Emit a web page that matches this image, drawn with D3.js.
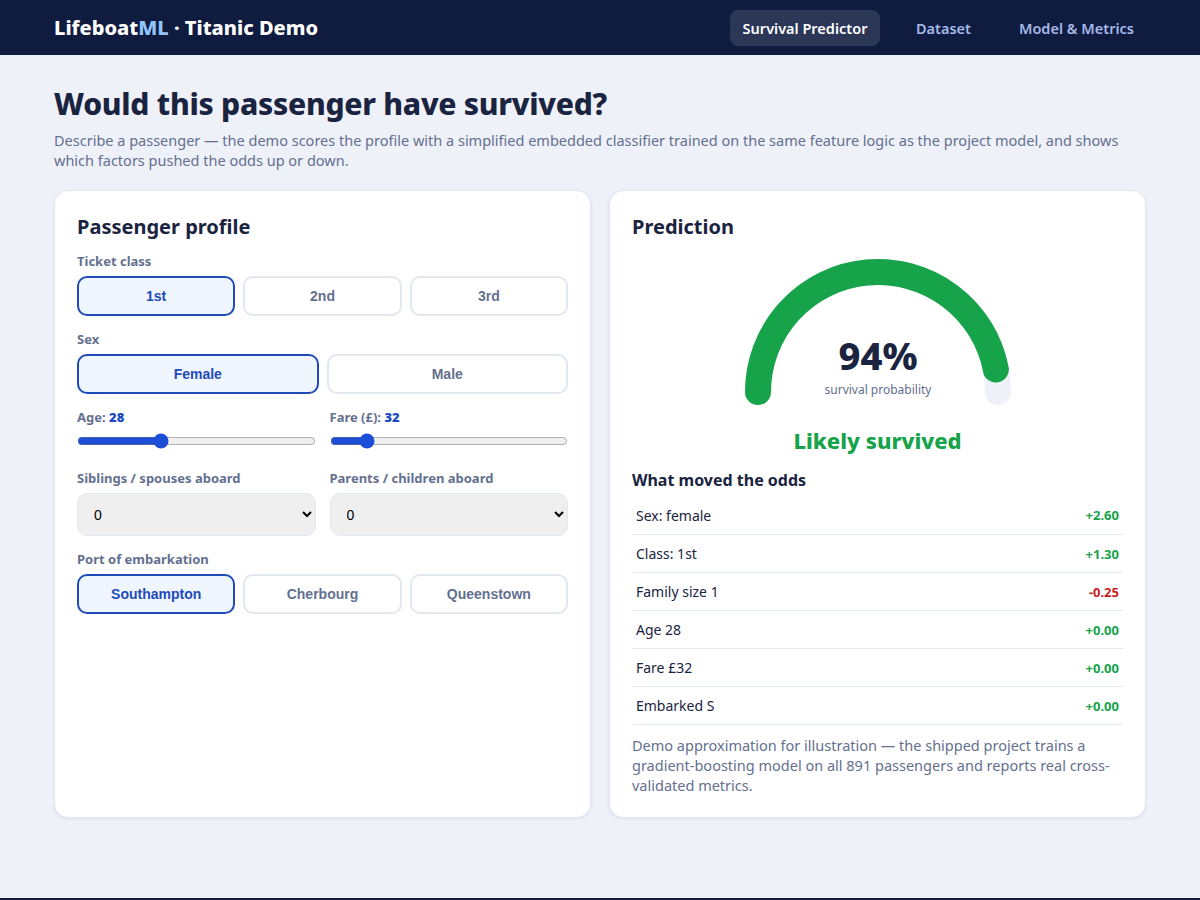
<!DOCTYPE html>
<html lang="en"><head><meta charset="utf-8"><title>LifeboatML</title>
<script src="https://cdn.jsdelivr.net/npm/d3@7"></script>
<style>
*{box-sizing:border-box}
html,body{margin:0;height:900px;overflow:hidden}
body{background:#eef1f8;font-family:"Noto Sans",sans-serif;color:#1a2340;position:relative}
header{height:55px;background:#0f1c3f;display:flex;align-items:center;justify-content:space-between;padding:0 54px}
.logo{font-size:20px;font-weight:800;color:#fff}.logo span{color:#93c5fd}
nav{display:flex;gap:24px;margin-right:0}
nav a{font-size:14.5px;font-weight:600;color:#a5b8e8;padding:8px 12px;border-radius:8px;height:36px;line-height:20px;margin-top:1px}
nav a.on{background:#2c3757;color:#fff;padding:8px 12.5px}
main{padding:0 54px}
h1{font-size:30px;line-height:40px;margin:29px 0 0;font-weight:800;letter-spacing:-.25px}
.sub{font-size:14.5px;line-height:20px;color:#64708f;margin:6px 0 0}
.grid{display:flex;gap:18px;margin-top:20px}
.card{width:537px;height:627.5px;background:#fff;border:1px solid #e2e8f0;border-radius:14px;box-shadow:0 1px 3px rgba(15,28,63,.08);padding:23px 22px 22px}
h2{font-size:20px;line-height:26px;margin:0;font-weight:700}
label{display:block;font-size:13px;font-weight:700;color:#64708f;line-height:17px}
label b{color:#1e4cc4}
.btns{display:flex;gap:8px;margin-top:6px}
.btns button{flex:1 1 0;height:40px;border:2px solid #e2e8f0;background:#fff;border-radius:10px;font-family:"Liberation Sans",Arial,sans-serif;font-size:14px;font-weight:700;color:#64708f;padding:0}
.btns button.on{border-color:#1f4bb8;background:#eff6ff;color:#1f4bb8}
.row{display:flex;gap:14px}.row>div{flex:1 1 0;min-width:0}
input[type=range]{display:block;width:100%;margin:7px 0 0;accent-color:#1d4ed8;height:16px}
select{display:block;width:100%;height:43px;margin-top:6px;border:1px solid #e2e8f0;border-radius:10px;background-color:#efefef;font-family:"Liberation Sans",Arial,sans-serif;font-size:14px;padding:0 12px;color:#000}
svg{display:block;position:absolute}
.pred{position:relative}
.status{position:absolute;left:0;right:0;top:234px;text-align:center;font-size:22px;font-weight:800;color:#16a34a;line-height:30px}
h3{position:absolute;left:22px;top:278px;margin:0;font-size:16px;line-height:22px;font-weight:700}
table{position:absolute;left:22px;top:305px;width:491px;border-collapse:collapse}
td{height:38px;padding:0 4px;border-bottom:1px solid #e2e8f0;font-size:14px}
tr:first-child td:first-child{padding-top:1px}
td.v{text-align:right;font-size:13px;font-weight:700;padding-top:1px}
.note{position:absolute;left:22px;top:544px;width:491px;font-size:14.5px;line-height:20px;color:#64708f;margin:0}
footer{position:absolute;left:0;right:0;bottom:0;height:2px;background:#0f1c3f}
</style></head><body>
<header><div class="logo">Lifeboat<span>ML</span> · Titanic Demo</div><nav id="nav"></nav></header>
<main>
<h1>Would this passenger have survived?</h1>
<p class="sub">Describe a passenger — the demo scores the profile with a simplified embedded classifier trained on the same feature logic as the project model, and shows which factors pushed the odds up or down.</p>
<div class="grid">
<section class="card" id="left"><h2>Passenger profile</h2></section>
<section class="card pred" id="right"><h2>Prediction</h2></section>
</div></main><footer></footer>
<script>
const navItems = ["Survival Predictor","Dataset","Model & Metrics"];
const classes = ["1st","2nd","3rd"];
const sexes = ["Female","Male"];
const ports = ["Southampton","Cherbourg","Queenstown"];
const age = 28, fare = 32;
const probability = 94;
const factors = ["Sex: female","Class: 1st","Family size 1","Age 28","Fare £32","Embarked S"];
const contributions = [2.60,1.30,-0.25,0.00,0.00,0.00];

d3.select("#nav").selectAll("a").data(navItems).join("a").classed("on",(d,i)=>i===0).text(d=>d);
const left = d3.select("#left");
function group(title,items,on,top){
  left.append("label").style("margin-top",top+"px").text(title);
  left.append("div").attr("class","btns").selectAll("button").data(items).join("button").classed("on",d=>d===on).text(d=>d);
}
group("Ticket class",classes,"1st",13);
group("Sex",sexes,"Female",15);
const r1 = left.append("div").attr("class","row").style("margin-top","15px");
function slider(parent,name,val,min,max){
  const c = parent.append("div");
  const l = c.append("label"); l.append("span").text(name+": "); l.append("b").text(val);
  c.append("input").attr("type","range").attr("min",min).attr("max",max).property("value",val);
}
slider(r1,"Age",age,1,80); slider(r1,"Fare (£)",fare,0,240);
const r2 = left.append("div").attr("class","row").style("margin-top","21px");
["Siblings / spouses aboard","Parents / children aboard"].forEach(t=>{
  const c = r2.append("div"); c.append("label").text(t);
  c.append("select").selectAll("option").data([0,1,2,3,4,5]).join("option").text(d=>d);
});
group("Port of embarkation",ports,"Southampton",15);

const right = d3.select("#right");
const W = 300, H = 170, cx = W/2, cy = 143, R = 120;
const svg = right.append("svg").attr("width",W).attr("height",H).style("left",(535-W)/2+"px").style("top",58+"px");
const ang = d3.scaleLinear().domain([0,100]).range([-Math.PI,0]);
function arcTo(v){const p=d3.path();p.arc(cx,cy,R,ang(0),ang(v));return p.toString();}
svg.append("path").attr("d",arcTo(100)).attr("fill","none").attr("stroke","#eef1f8").attr("stroke-width",26).attr("stroke-linecap","round");
svg.append("path").attr("d",arcTo(probability)).attr("fill","none").attr("stroke","#16a34a").attr("stroke-width",26).attr("stroke-linecap","round");
svg.append("text").attr("x",cx).attr("y",121).attr("text-anchor","middle").attr("font-size",38).attr("font-weight",800).attr("fill","#1a2340").text(probability+"%");
svg.append("text").attr("x",cx).attr("y",145).attr("text-anchor","middle").attr("font-size",12).attr("fill","#64708f").text("survival probability");
right.append("div").attr("class","status").text("Likely survived");
right.append("h3").text("What moved the odds");
const fmt = d3.formatLocale({decimal:".",thousands:",",grouping:[3],currency:["","£"],minus:"-"}).format("+.2f");
const tr = right.append("table").selectAll("tr").data(factors).join("tr");
tr.append("td").text(d=>d);
tr.append("td").attr("class","v").data(contributions).style("color",d=>d<0?"#c81e1e":"#16a34a").text(d=>fmt(d));
right.append("p").attr("class","note").text("Demo approximation for illustration — the shipped project trains a gradient-boosting model on all 891 passengers and reports real cross-validated metrics.");
</script></body></html>
